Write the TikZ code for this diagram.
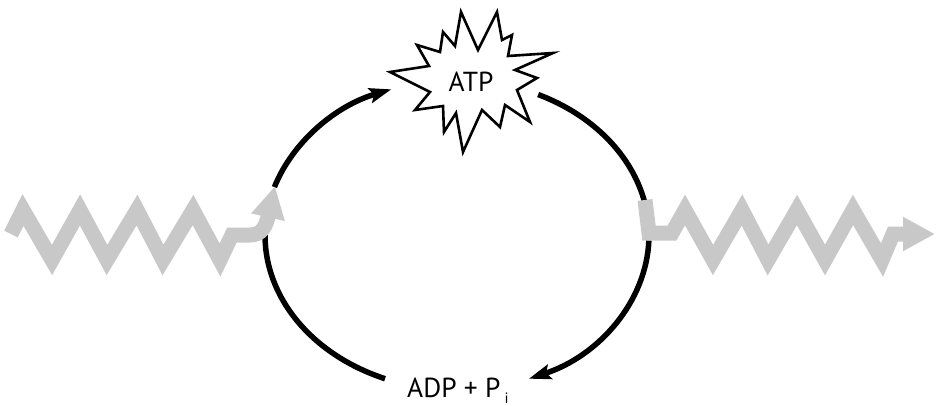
\documentclass[tikz,border=0pt]{standalone}
\usepackage{fontspec}
\setmainfont{PT Sans}
\usetikzlibrary{arrows.meta,calc}
\definecolor{zz}{RGB}{200,200,200}
\tikzset{
  cyc/.style={line width=5.5pt, black},
  cyctip/.style={-{Stealth[length=22pt,width=15pt,inset=4pt]}},
  zig/.style={line width=15pt, zz, line join=miter, miter limit=20},
  zigtip/.style={-{Triangle[length=32pt,width=32pt]}},
  burst/.style={line width=2.6pt, draw=black, fill=white, line join=miter, miter limit=20},
  lbl/.style={inner sep=0pt, font=\fontsize{27.5}{30}\selectfont}
}
\begin{document}
\begin{tikzpicture}[x=1pt,y=1pt]
\useasboundingbox (0,0) rectangle (936,-406);
\coordinate (C) at (457,-235);
% black cycle arcs
\coordinate (tl) at ($(C)+(162:192 and 155)$);
\coordinate (tr) at ($(C)+(65:192 and 155)$);
\coordinate (br) at ($(C)+(-2:192 and 155)$);
\coordinate (bl) at ($(C)+(-112:192 and 155)$);
\draw[cyc,cyctip] (tl) arc[start angle=162, end angle=110, x radius=192, y radius=155];
\draw[cyc] (tr) arc[start angle=65, end angle=12, x radius=192, y radius=155];
\draw[cyc,cyctip] (br) arc[start angle=-2, end angle=-68, x radius=192, y radius=155];
\draw[cyc] (bl) arc[start angle=-112, end angle=-181, x radius=192, y radius=155];
% left grey zigzag arrow
\coordinate (lin) at (11,-234);
\coordinate (lend) at (275,-186);
\draw[zig,zigtip] (lin) -- (23,-210) -- (52,-260) -- (80,-210) -- (107,-260)
  -- (137,-210) -- (163,-260) -- (193,-210) -- (220,-260) -- (232,-235)
  -- (250,-235) .. controls (262,-235) and (266,-226) .. (lend);
% right grey zigzag arrow
\coordinate (rin) at (645,-200);
\coordinate (rend) at (935,-234);
\draw[zig,zigtip] (rin) -- (649,-233) -- (672,-233) -- (685,-210) -- (713,-260)
  -- (742,-210) -- (768,-260) -- (797,-210) -- (825,-260) -- (853,-210)
  -- (882,-260) -- (893,-234) -- (rend);
% ATP burst
\draw[burst] (461,-12) -- (478,-50) -- (497,-12) -- (502,-40) -- (512,-35)
  -- (508,-56) -- (553,-53) -- (515,-70) -- (537,-78) -- (517,-90)
  -- (530,-122) -- (505,-105) -- (500,-127) -- (482,-110) -- (463,-152)
  -- (456,-113) -- (444,-132) -- (443,-106) -- (415,-110) -- (430,-92)
  -- (390,-72) -- (429,-66) -- (417,-45) -- (440,-52) -- (443,-32)
  -- (455,-46) -- cycle;
\node[lbl] (atp) at (471,-82) {ATP};
\node[lbl, anchor=base west] (adp) at (407,-397) {ADP + P\kern4pt\raisebox{-6pt}{\fontsize{15}{15}\selectfont i}};
\end{tikzpicture}
\end{document}
